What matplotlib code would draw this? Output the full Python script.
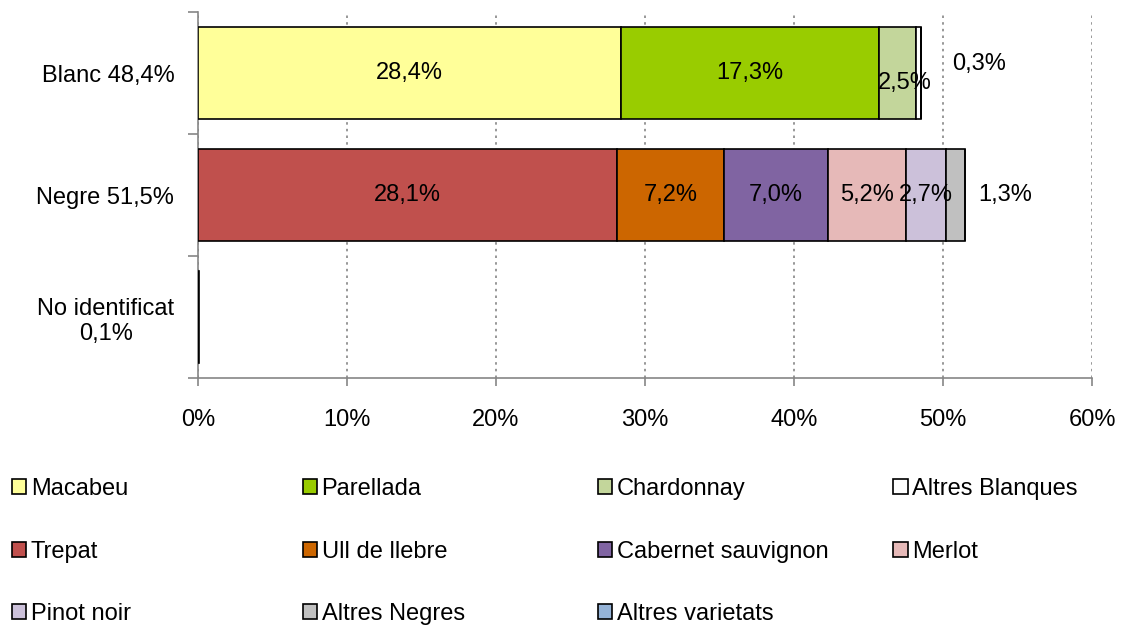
import matplotlib.pyplot as plt
from matplotlib.patches import Patch

plt.rcParams['font.family'] = ['Liberation Sans', 'DejaVu Sans']

categories = ['Blanc 48,4%', 'Negre 51,5%', 'No identificat\n0,1%']
varieties = ['Macabeu', 'Parellada', 'Chardonnay', 'Altres Blanques',
             'Trepat', 'Ull de llebre', 'Cabernet sauvignon', 'Merlot',
             'Pinot noir', 'Altres Negres', 'Altres varietats']
colors = ['#FFFF99', '#99CC00', '#C3D69B', '#FFFFFF',
          '#C0504D', '#CC6600', '#8064A2', '#E6B9B8',
          '#CCC1DA', '#C0C0C0', '#95B3D7']
# share (%) of each variety per category: Blanc, Negre, No identificat
values = [
    [28.4, 0, 0],
    [17.3, 0, 0],
    [2.5, 0, 0],
    [0.3, 0, 0],
    [0, 28.1, 0],
    [0, 7.2, 0],
    [0, 7.0, 0],
    [0, 5.2, 0],
    [0, 2.7, 0],
    [0, 1.3, 0],
    [0, 0, 0.1],
]
# labels moved outside / nudged (as in the original), in data units
label_shift = {
    ('Altres Blanques', 0): (4.1, -0.07),
    ('Chardonnay', 0): (0.5, 0.08),
    ('Altres Negres', 1): (3.3, 0.0),
}
no_label = {'Altres varietats'}

fs = 17
grey = '#868686'

fig = plt.figure(figsize=(11.23, 6.28), dpi=100)
ax = fig.add_axes([0.1763, 0.398, 0.7961, 0.5829])

ypos = list(range(len(categories)))
left = [0.0] * len(categories)
for name, col, vals in zip(varieties, colors, values):
    ax.barh(ypos, vals, left=left, height=0.76, color=col,
            edgecolor='black', linewidth=1.2, label=name, zorder=3)
    for i, v in enumerate(vals):
        if v > 0 and name not in no_label:
            dx, dy = label_shift.get((name, i), (0, 0))
            txt = f'{v:.1f}%'.replace('.', ',')
            ax.text(left[i] + v / 2 + dx, i + dy, txt, ha='center',
                    va='center', fontsize=fs, zorder=4)
    left = [l + v for l, v in zip(left, vals)]

ax.set_xlim(0, 60)
ax.set_ylim(len(categories) - 0.5, -0.5)
ax.set_xticks(range(0, 61, 10))
ax.set_xticklabels([f'{t}%' for t in range(0, 61, 10)], fontsize=fs)
ax.set_yticks(ypos)
ax.set_yticklabels(categories, fontsize=fs)
ax.get_yticklabels()[2].set_multialignment('center')
ax.set_yticks([-0.5, 0.5, 1.5, 2.5], minor=True)

ax.tick_params(axis='y', which='major', length=0, pad=17)
ax.tick_params(axis='y', which='minor', length=7, color=grey, width=1.2)
ax.tick_params(axis='x', length=6, color=grey, width=1.2, pad=16)

for s in ['top', 'right']:
    ax.spines[s].set_visible(False)
for s in ['left', 'bottom']:
    ax.spines[s].set_color(grey)
    ax.spines[s].set_linewidth(1.2)

ax.xaxis.grid(True, linestyle=(0, (1.5, 2.5)), color=grey, linewidth=1.2, zorder=0)
ax.set_axisbelow(True)

# legend: 4 columns, filled row by row
handles = [Patch(facecolor=c, edgecolor='black', linewidth=1.2) for c in colors]
col_x = [0.0105, 0.2695, 0.5325, 0.7955]
for j, x in enumerate(col_x):
    idx = list(range(j, len(varieties), 4))
    fig.legend([handles[k] for k in idx], [varieties[k] for k in idx],
               loc='upper left', bbox_to_anchor=(x, 0.239), frameon=False,
               fontsize=fs, handlelength=0.6, handleheight=0.6,
               handletextpad=0.2, labelspacing=1.72, borderaxespad=0,
               borderpad=0)

fig.savefig('out.png', dpi=100)
